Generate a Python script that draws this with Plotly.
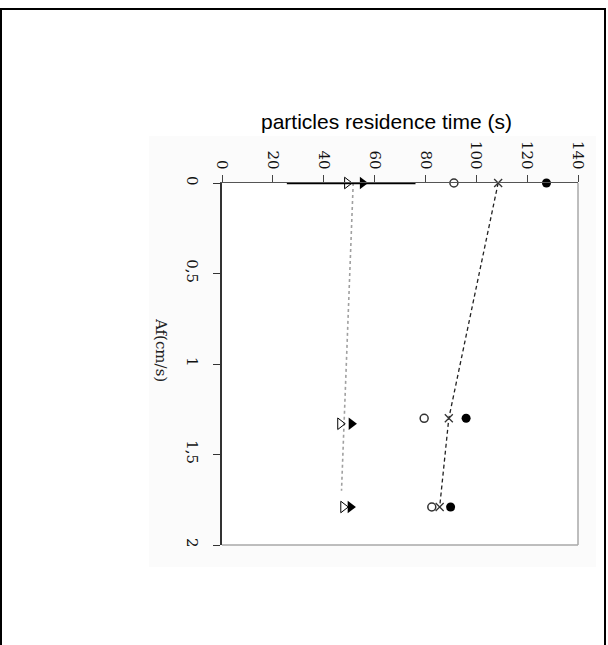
import plotly.graph_objects as go

# ---- data ----
af_tri = [0, 1.33, 1.79]
open_tri = [49.2, 46.5, 47.7]
filled_tri = [55.3, 50.9, 50.5]

af_circ = [0, 1.30, 1.79]
open_circ = [91.2, 79.5, 82.5]
cross_vals = [108.6, 89.2, 85.6]
filled_circ = [127.6, 96.0, 89.9]

range_af = [0, 0]
range_vals = [25.5, 76.1]

trend_af = [0, 1.70]
trend_vals = [51.6, 47.0]

x_ticks = [0, 20, 40, 60, 80, 100, 120, 140]
y_ticks = [0, 0.5, 1, 1.5, 2]
y_ticktext = ["0", "0,5", "1", "1,5", "2"]

# ---- layout geometry ----
W, H = 608, 645
L, R, T, B = 222, 578, 183, 545


def px(xp):
    return (xp - L) / (R - L)


def py(yp):
    return (B - yp) / (B - T)


fig = go.Figure()

fig.add_trace(go.Scatter(x=trend_vals, y=trend_af, mode="lines",
                         line=dict(color="#a0a0a0", width=1.6, dash="dot"),
                         showlegend=False))
fig.add_trace(go.Scatter(x=cross_vals, y=af_circ, mode="lines",
                         line=dict(color="#222", width=1.3, dash="4px,3px"),
                         showlegend=False))
fig.add_trace(go.Scatter(x=range_vals, y=range_af, mode="lines",
                         line=dict(color="black", width=2.5),
                         showlegend=False, cliponaxis=False))
fig.add_trace(go.Scatter(x=open_tri, y=af_tri, mode="markers",
                         marker=dict(symbol="triangle-right-open", size=10,
                                     color="black", line=dict(width=1)),
                         showlegend=False, cliponaxis=False))
fig.add_trace(go.Scatter(x=filled_tri, y=af_tri, mode="markers",
                         marker=dict(symbol="triangle-right", size=11,
                                     color="black"),
                         showlegend=False, cliponaxis=False))
fig.add_trace(go.Scatter(x=open_circ, y=af_circ, mode="markers",
                         marker=dict(symbol="circle-open", size=8,
                                     color="#333", line=dict(width=1.5)),
                         showlegend=False, cliponaxis=False))
fig.add_trace(go.Scatter(x=cross_vals, y=af_circ, mode="markers",
                         marker=dict(symbol="x-thin-open", size=8,
                                     color="#333", line=dict(width=1.3)),
                         showlegend=False, cliponaxis=False))
fig.add_trace(go.Scatter(x=filled_circ, y=af_circ, mode="markers",
                         marker=dict(symbol="circle", size=9, color="black"),
                         showlegend=False, cliponaxis=False))

shapes = [
    # faint grey panel behind the chart
    dict(type="rect", xref="paper", yref="paper", layer="below",
         x0=px(149), x1=px(596), y0=py(567), y1=py(136),
         fillcolor="#fbfbfb", line=dict(width=0)),
    dict(type="rect", xref="paper", yref="paper", layer="below",
         x0=0, x1=1, y0=0, y1=1, fillcolor="white", line=dict(width=0)),
    # grey right and bottom frame
    dict(type="line", xref="paper", yref="paper", x0=1, x1=1, y0=0, y1=1,
         line=dict(color="#a8a8a8", width=1.5)),
    dict(type="line", xref="paper", yref="paper", x0=0, x1=1, y0=0, y1=0,
         line=dict(color="#a8a8a8", width=1.5)),
    # outer black border
    dict(type="rect", xref="paper", yref="paper",
         x0=px(1), x1=px(605), y0=py(660), y1=py(9),
         line=dict(color="black", width=2), fillcolor="rgba(0,0,0,0)"),
]

tick_font = dict(family="DejaVu Serif", size=15, color="#111")

fig.update_layout(
    width=W, height=H,
    margin=dict(l=L, r=W - R, t=T, b=H - B, pad=0),
    paper_bgcolor="white", plot_bgcolor="white",
    shapes=shapes,
    xaxis=dict(range=[0, 140], side="top", tickvals=x_ticks,
               tickangle=90, ticks="outside", ticklen=7, tickwidth=1,
               tickcolor="#444", showline=True, linecolor="#555",
               linewidth=1.2, showgrid=False, zeroline=False,
               tickfont=tick_font),
    yaxis=dict(range=[2, 0], tickvals=y_ticks, ticktext=y_ticktext,
               tickangle=90, ticks="outside", ticklen=7, tickwidth=1,
               tickcolor="#333", showline=True, linecolor="#333",
               linewidth=1.5, showgrid=False, zeroline=False,
               ticklabelstandoff=8, tickfont=tick_font),
    annotations=[
        dict(text="particles residence time (s)", xref="paper", yref="paper",
             x=px(386.5), y=py(121), xanchor="center", yanchor="middle",
             showarrow=False,
             font=dict(family="Liberation Sans", size=21, color="black")),
        dict(text="Af(cm/s)", xref="paper", yref="paper",
             x=px(161), y=py(350), xanchor="center", yanchor="middle",
             textangle=90, showarrow=False,
             font=dict(family="DejaVu Serif", size=15, color="#222")),
    ],
)

fig.write_html("out.html",
               config={"displayModeBar": False},
               post_script="document.body.style.margin='0';"
                           "document.body.style.overflow='hidden';")
